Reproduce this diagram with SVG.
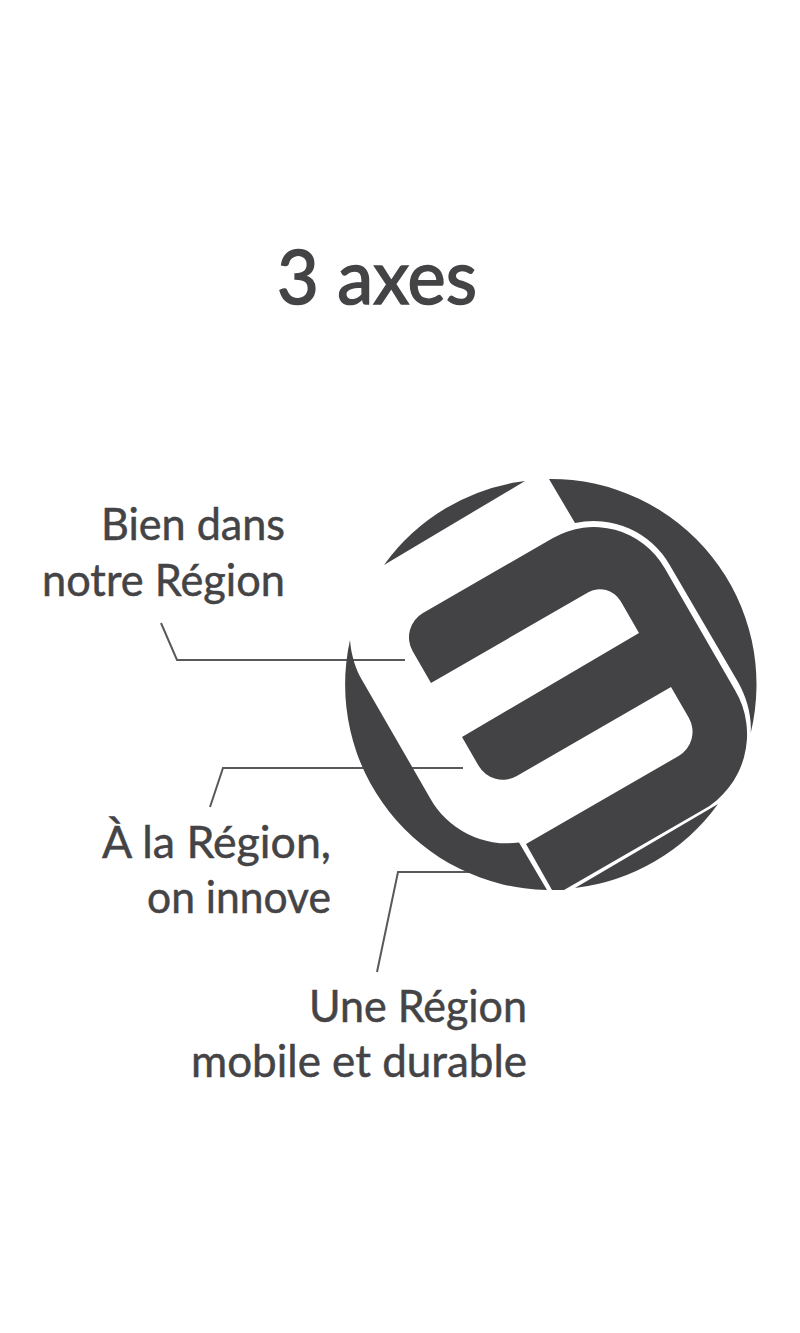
<svg xmlns="http://www.w3.org/2000/svg" width="800" height="1333" viewBox="0 0 800 1333">
<style>
.t{font-family:"Lato","Liberation Sans",sans-serif;font-size:44px;fill:#444345;stroke:#444345;stroke-width:.5;text-anchor:end}
.s{fill:#434244}
.c{fill:none;stroke:#58595b;stroke-width:2}
</style>
<rect width="800" height="1333" fill="#fff"/>
<text id="title" x="477" y="304" class="t" style="font-size:75px;stroke-width:1.6" textLength="200" lengthAdjust="spacingAndGlyphs">3 axes</text>
<g id="connectors">
<path class="c" d="M161,623L177,660H405"/>
<path class="c" d="M210,807L223,768H463"/>
<path class="c" d="M377,972L398,872H480"/>
</g>
<g id="emblem">
<path class="s" d="M525,481A205.5,205.5 0 0 0 384,565Z"/>
<path class="s" d="M549,479A205.5,205.5 0 0 1 750.7,733C752,715 746,696 738,682L669.7,564.9A87.7,87.7 0 0 0 575,523Z"/>
<path class="s" d="M350,640A205.5,205.5 0 0 0 547,890L519,842.5A88,88 0 0 1 430,797.9L362,680C356,670 351,655 350,640Z"/>
<path class="s" d="M718,804A205.5,205.5 0 0 1 575,888Z"/>
<path class="s" d="M431,683L587.9,592.5A24,24 0 0 1 620.7,601.3L639,633L462,737L478.6,765.8A28,28 0 0 0 516.8,776L671,687L688.8,717.8A28,28 0 0 1 678.6,756L526,844L552,890A205.5,205.5 0 0 0 564,890L702.7,810.1A87,87 0 0 0 734.9,689.9L664.6,568A81.6,81.6 0 0 0 553,538L423,613.1A28,28 0 0 0 412.7,651.3Z"/>
</g>
<g id="label-1"><text class="t" x="285" y="540" textLength="184" lengthAdjust="spacingAndGlyphs">Bien dans</text><text class="t" x="285" y="596" textLength="243" lengthAdjust="spacingAndGlyphs">notre Région</text></g>
<g id="label-2"><text class="t" x="331" y="858" textLength="229" lengthAdjust="spacingAndGlyphs">À la Région,</text><text class="t" x="331" y="913" textLength="184" lengthAdjust="spacingAndGlyphs">on innove</text></g>
<g id="label-3"><text class="t" x="527" y="1022" textLength="218" lengthAdjust="spacingAndGlyphs">Une Région</text><text class="t" x="527" y="1077" textLength="336" lengthAdjust="spacingAndGlyphs">mobile et durable</text></g>
</svg>
